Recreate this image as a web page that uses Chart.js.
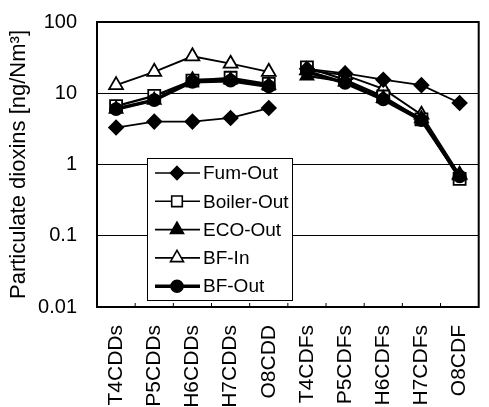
<!DOCTYPE html>
<html>
<head>
<meta charset="utf-8">
<script src="https://cdn.jsdelivr.net/npm/chart.js@4"></script>
<style>
html,body{margin:0;padding:0;background:#fff;}
#wrap{width:489px;height:407px;}
</style>
</head>
<body>
<div id="wrap"><canvas id="c" width="489" height="407"></canvas></div>
<script>
const categories = ['T4CDDs','P5CDDs','H6CDDs','H7CDDs','O8CDD','T4CDFs','P5CDFs','H6CDFs','H7CDFs','O8CDF'];
const furnOut   = [3.3, 4.0, 4.0, 4.5, 6.2, 22, 19, 15.5, 13, 7.3];
const boilerOut = [6.6, 9.2, 15, 16.5, 13.5, 23, 15.5, 9, 4.3, 0.63];
const ecoOut    = [6.0, 8.0, 15.5, 15.5, 13, 17.5, 14.5, 8.5, 4.4, 0.7];
const bfIn      = [13, 20, 33, 26, 20, 21, 18, 11.5, 5.0, 0.72];
const bfOut     = [6.0, 8.0, 14.5, 15, 12.5, 20, 14, 8.2, 4.2, 0.68];
const yTicks    = [0.01, 0.1, 1, 10, 100];
const yTickLabels = ['0.01', '0.1', '1', '10', '100'];
const seriesNames = ['Furn-Out', 'Boiler-Out', 'ECO-Out', 'BF-In', 'BF-Out'];
const legendLabels = ['Fum-Out', 'Boiler-Out', 'ECO-Out', 'BF-In', 'BF-Out'];
const breakAfter = 4;

const FONT = '"Liberation Sans", Arial, Helvetica, sans-serif';

const gapSegment = {
  borderColor: ctx => ctx.p0DataIndex === breakAfter ? 'rgba(0,0,0,0)' : '#000'
};

function ds(label, data, style, fillColor, bw, r) {
  return {
    label: label, data: data, borderColor: '#000', borderWidth: bw,
    pointStyle: style, pointRadius: r, pointHoverRadius: r,
    pointBackgroundColor: fillColor, pointBorderColor: '#000', pointBorderWidth: 1.8,
    backgroundColor: fillColor, tension: 0, segment: gapSegment, fill: false
  };
}

const datasets = [
  ds(seriesNames[0], furnOut, 'rectRot', '#000', 1.8, 7),
  ds(seriesNames[4], bfOut, 'circle', '#000', 3.5, 6),
  ds(seriesNames[2], ecoOut, 'triangle', '#000', 2.2, 7.5),
  ds(seriesNames[1], boilerOut, 'rect', '#fff', 2.2, 8.5),
  ds(seriesNames[3], bfIn, 'triangle', '#fff', 1.8, 8)
];

const legendStyles = [
  {style:'rectRot', fill:'#000', r:6.5, lw:1.6},
  {style:'rect', fill:'#fff', r:7.5, lw:1.6},
  {style:'triangle', fill:'#000', r:7.5, lw:1.6},
  {style:'triangle', fill:'#fff', r:7.5, lw:1.6},
  {style:'circle', fill:'#000', r:6, lw:3.5}
];

function drawMarker(ctx, style, x, y, r, fill) {
  ctx.beginPath();
  if (style === 'rectRot') {
    ctx.moveTo(x, y - r); ctx.lineTo(x + r, y); ctx.lineTo(x, y + r); ctx.lineTo(x - r, y); ctx.closePath();
  } else if (style === 'rect') {
    const s = r * Math.SQRT1_2;
    ctx.rect(x - s, y - s, 2 * s, 2 * s);
  } else if (style === 'triangle') {
    ctx.moveTo(x, y - r);
    ctx.lineTo(x + r * Math.sin(Math.PI/3), y + r * 0.5);
    ctx.lineTo(x - r * Math.sin(Math.PI/3), y + r * 0.5);
    ctx.closePath();
  } else {
    ctx.arc(x, y, r, 0, Math.PI * 2);
  }
  ctx.fillStyle = fill; ctx.fill();
  ctx.lineWidth = 1.6; ctx.strokeStyle = '#000'; ctx.stroke();
}

const framePlugin = {
  id: 'frame',
  afterDatasetsDraw(chart) {
    const ctx = chart.ctx, a = chart.chartArea;
    const x = chart.scales.x;
    ctx.save();
    ctx.strokeStyle = '#000'; ctx.lineWidth = 1;
    for (let i = 0; i < categories.length - 1; i++) {
      const px = (x.getPixelForValue(i) + x.getPixelForValue(i + 1)) / 2;
      ctx.beginPath(); ctx.moveTo(px, a.bottom); ctx.lineTo(px, a.bottom - 4); ctx.stroke();
    }
    ctx.lineWidth = 2;
    ctx.strokeRect(a.left, a.top, a.right - a.left, a.bottom - a.top);
    const lx = a.left + 50, ly = 158, lw = 145, lh = 142;
    ctx.fillStyle = '#fff';
    ctx.fillRect(lx, ly, lw, lh);
    ctx.lineWidth = 1;
    ctx.strokeRect(lx + 0.5, ly + 0.5, lw, lh);
    ctx.font = '19px ' + FONT;
    ctx.textBaseline = 'middle';
    ctx.textAlign = 'left';
    for (let i = 0; i < legendLabels.length; i++) {
      const cy = ly + 15 + i * 28.3;
      const st = legendStyles[i];
      ctx.beginPath();
      ctx.lineWidth = st.lw; ctx.strokeStyle = '#000';
      ctx.moveTo(lx + 8, cy); ctx.lineTo(lx + 53, cy); ctx.stroke();
      drawMarker(ctx, st.style, lx + 30, cy, st.r, st.fill);
      ctx.fillStyle = '#000';
      ctx.fillText(legendLabels[i], lx + 56, cy + 1);
    }
    ctx.restore();
  }
};

new Chart(document.getElementById('c'), {
  type: 'line',
  data: { labels: categories, datasets: datasets },
  options: {
    responsive: false,
    animation: false,
    devicePixelRatio: 1,
    layout: { padding: { top: 22, right: -1, left: 0, bottom: 0 } },
    plugins: { legend: { display: false }, tooltip: { enabled: false } },
    scales: {
      x: {
        type: 'category',
        offset: true,
        grid: { display: true, drawOnChartArea: false, drawTicks: true, tickLength: 18, tickColor: 'rgba(0,0,0,0)', color: 'rgba(0,0,0,0)' },
        border: { display: false },
        ticks: {
          color: '#000', font: { family: FONT, size: 21, lineHeight: 1 },
          minRotation: 90, maxRotation: 90, padding: 0, autoSkip: false
        },
        afterFit(s) { s.height = 100; s.paddingLeft = 0; s.paddingRight = 0; }
      },
      y: {
        type: 'logarithmic',
        min: 0.01, max: 100,
        afterBuildTicks(s) { s.ticks = yTicks.map(v => ({ value: v })); },
        grid: {
          color: ctx => (ctx.tick && (ctx.tick.value === 100 || ctx.tick.value === 0.01)) ? 'rgba(0,0,0,0)' : '#000',
          lineWidth: 1, drawTicks: false
        },
        border: { display: false },
        ticks: {
          color: '#000', font: { family: FONT, size: 20 }, padding: 20,
          callback: (v) => { const i = yTicks.indexOf(v); return i >= 0 ? yTickLabels[i] : ''; }
        },
        title: {
          display: true, text: 'Particulate dioxins [ng/Nm³]', color: '#000',
          font: { family: FONT, size: 22 }, padding: { top: 6, bottom: 0 }
        },
        afterFit(s) { s.width = 97; s.paddingTop = 0; s.paddingBottom = 0; }
      }
    }
  },
  plugins: [framePlugin]
});
</script>
</body>
</html>
